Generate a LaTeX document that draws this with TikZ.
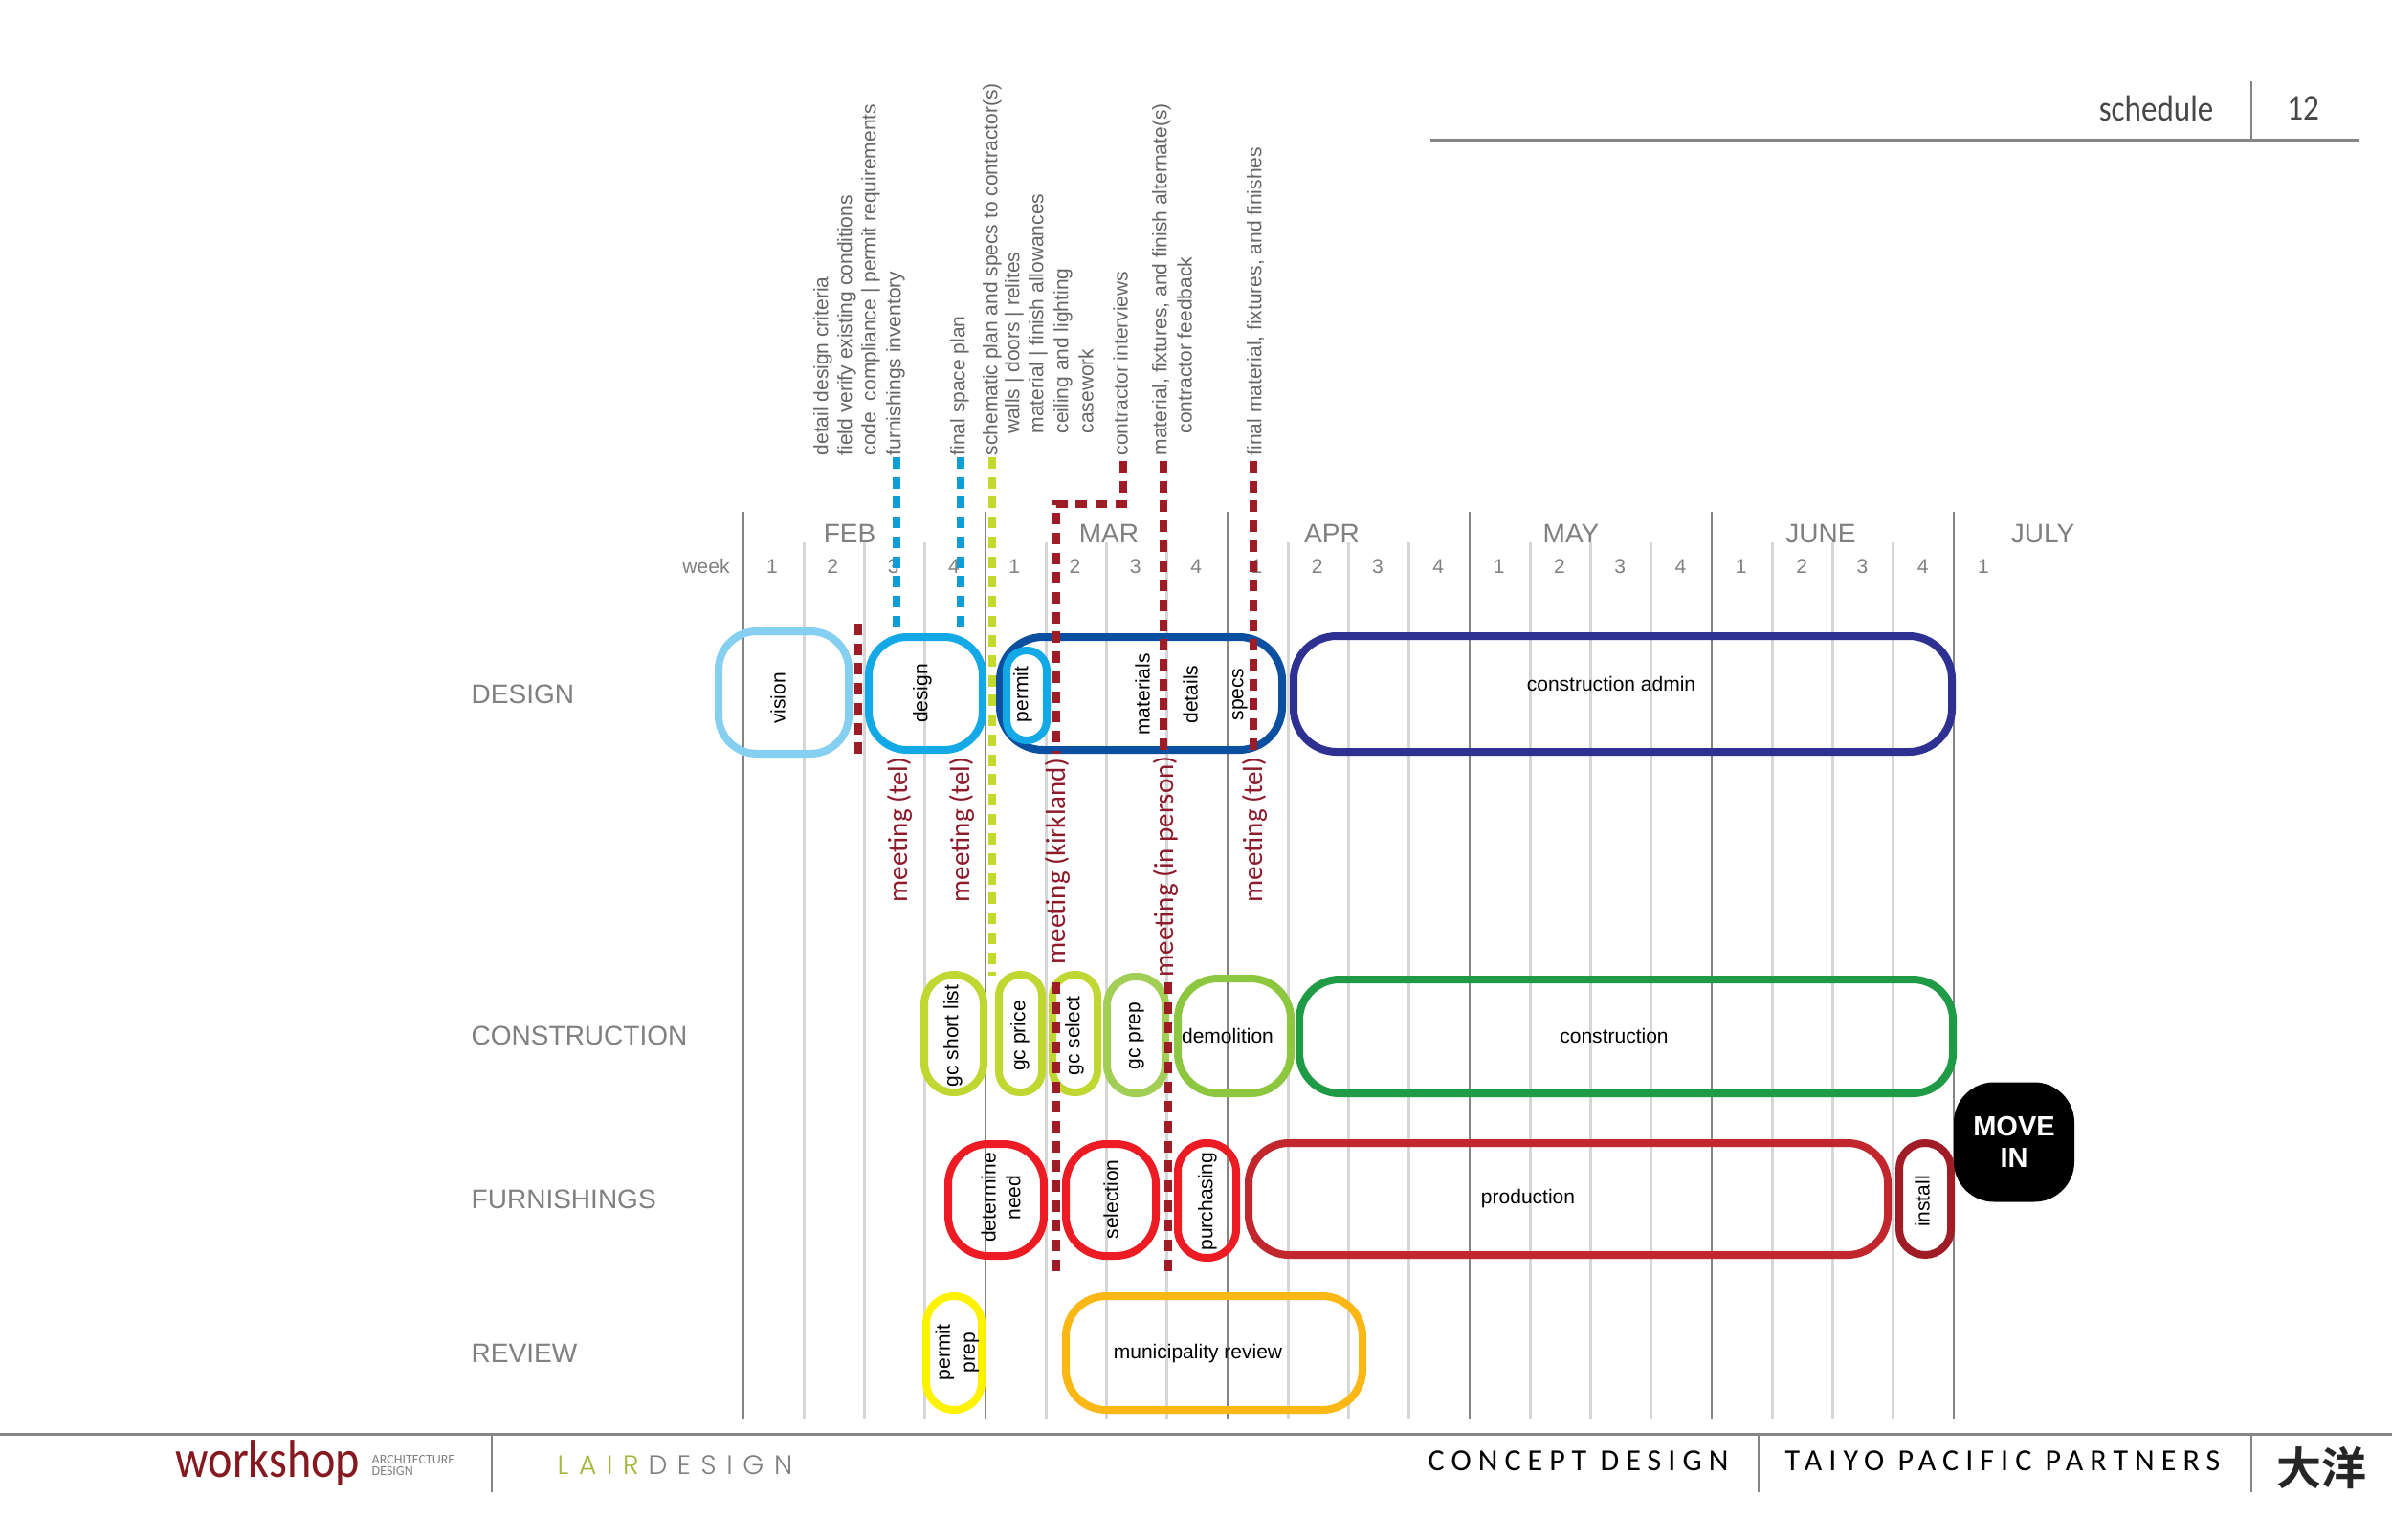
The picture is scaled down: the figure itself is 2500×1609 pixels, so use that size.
\documentclass[tikz,border=0pt]{standalone}
\usepackage{fontspec}
\setmainfont{Liberation Sans}
\newfontfamily\calfont{Carlito}
\newfontfamily\headfont[FakeStretch=0.87]{Carlito}
\newfontfamily\workfont[FakeStretch=0.86]{Carlito}
\newfontfamily\footfont[LetterSpace=22]{Carlito}
\newfontfamily\lairfont[LetterSpace=38,UprightFont=* Light]{Poppins}
\newfontfamily\cjkfont{Noto Sans CJK SC}[BoldFont=* Bold]
\newdimen\px \px=0.01cm
\newcommand{\fs}[1]{\fontsize{\fpeval{#1*0.28453}pt}{\fpeval{#1*0.28453*1.2}pt}\selectfont}
\definecolor{gridD}{HTML}{858585}
\definecolor{gridL}{HTML}{D6D6D6}
\definecolor{labelG}{HTML}{808080}
\definecolor{noteG}{HTML}{666666}
\definecolor{maroon}{HTML}{9E1C26}
\definecolor{meetC}{HTML}{8E1B2C}
\definecolor{dBlue}{HTML}{0F9FD8}
\definecolor{dLime}{HTML}{C4D82E}
\definecolor{cVision}{HTML}{85D0F0}
\definecolor{cDesign}{HTML}{12A9E6}
\definecolor{cMat}{HTML}{0A4FA0}
\definecolor{cAdmin}{HTML}{2E3192}
\definecolor{cGc}{HTML}{BFD730}
\definecolor{cPrep}{HTML}{A3CE55}
\definecolor{cDemo}{HTML}{8DC63F}
\definecolor{cCons}{HTML}{1F9A46}
\definecolor{cFurn}{HTML}{ED1C24}
\definecolor{cProd}{HTML}{C1272D}
\definecolor{cInst}{HTML}{A01C26}
\definecolor{cYel}{HTML}{FFF200}
\definecolor{cMuni}{HTML}{FBB814}
\tikzset{
  griddark/.style={draw=gridD,line width=2.8\px},
  gridlight/.style={draw=gridL,line width=2.8\px},
  schedbox/.style={draw=#1,line width=8\px,rectangle,inner sep=0pt,outer sep=0pt},
  meetdash/.style={draw=#1,line width=7.5\px,dash pattern=on 12\px off 8.7\px},
  rowlabel/.style={anchor=west,inner sep=0pt,text=labelG,font=\fs{28}},
  monthlabel/.style={inner sep=0pt,text=labelG,font=\fs{28}},
  weeklabel/.style={inner sep=0pt,text=labelG,font=\fs{21}},
  notetext/.style={rotate=90,anchor=west,inner sep=0pt,text=noteG,font=\fs{21}},
  meettext/.style={rotate=90,anchor=west,inner sep=0pt,text=meetC,font=\calfont\fs{29}},
  boxtext/.style={rotate=90,inner sep=0pt,text=black,font=\fs{21},align=center},
  boxtexth/.style={inner sep=0pt,text=black,font=\fs{21}},
  rulesty/.style={draw=gridD,line width=3\px},
  foottext/.style={inner sep=0pt,anchor=west,text=black,font=\footfont\fs{32}},
}
% name, x1, y1, x2, y2 (outer extents), colour, radius
\newcommand{\pbox}[7]{%
  \node[schedbox=#6,rounded corners=#7\px,
        minimum width={(#4-#2-8)*\px},minimum height={(#5-#3-8)*\px}]
        (#1) at ({(#2+#4)/2},{(#3+#5)/2}) {};}
\begin{document}
\begin{tikzpicture}[x=0.01cm,y=-0.01cm]
\useasboundingbox (0,0) rectangle (2500,1609);
\fill[white] (0,0) rectangle (2500,1609);

% grid
\foreach \k in {0,...,20}{
  \pgfmathsetmacro{\gx}{777+63.25*\k}
  \pgfmathtruncatemacro{\md}{mod(\k,4)}
  \ifnum\md=0
    \coordinate (gt\k) at (\gx,535); \coordinate (gb\k) at (\gx,1484);
    \draw[griddark] (gt\k) -- (gb\k);
  \else
    \coordinate (gt\k) at (\gx,567); \coordinate (gb\k) at (\gx,1484);
    \draw[gridlight] (gt\k) -- (gb\k);
  \fi
}

% months, weeks
\node[monthlabel] (mFeb) at (888,558) {FEB};
\node[monthlabel] (mMar) at (1159,558) {MAR};
\node[monthlabel] (mApr) at (1392,558) {APR};
\node[monthlabel] (mMay) at (1642,558) {MAY};
\node[monthlabel] (mJun) at (1903,558) {JUNE};
\node[monthlabel] (mJul) at (2135,558) {JULY};
\node[weeklabel] (wk) at (738,592) {week};
\foreach \k/\n in {0/1,1/2,2/3,3/4,4/1,5/2,6/3,7/4,8/1,9/2,10/3,11/4,12/1,13/2,14/3,15/4,16/1,17/2,18/3,19/4,20/1}{
  \pgfmathsetmacro{\wx}{807+63.3*\k}
  \node[weeklabel] (w\k) at (\wx,592) {\n};
}

% row labels
\node[rowlabel] (rDesign) at (492,726) {DESIGN};
\node[rowlabel] (rCons) at (492,1083) {CONSTRUCTION};
\node[rowlabel] (rFurn) at (492,1254) {FURNISHINGS};
\node[rowlabel] (rRev) at (492,1415) {REVIEW};

% notes
\node[notetext] (n1) at (860,477) {detail design criteria};
\node[notetext] (n2) at (885,477) {field verify existing conditions};
\node[notetext] (n3) at (910,477) {code\ \ compliance | permit requirements};
\node[notetext] (n4) at (936,477) {furnishings inventory};
\node[notetext] (n5) at (1003,477) {final space plan};
\node[notetext] (n6) at (1037,477) {schematic plan and specs to contractor(s)};
\node[notetext] (n7) at (1060,454) {walls | doors | relites};
\node[notetext] (n8) at (1085,454) {material | finish allowances};
\node[notetext] (n9) at (1111,454) {ceiling and lighting};
\node[notetext] (n10) at (1135,454) {casework};
\node[notetext] (n11) at (1171,477) {contractor interviews};
\node[notetext] (n12) at (1214,477) {material, fixtures, and finish alternate(s)};
\node[notetext] (n13) at (1238,454) {contractor feedback};
\node[notetext] (n14) at (1312,477) {final material, fixtures, and finishes};

% boxes: design
\pbox{bVision}{747}{656}{891}{792}{cVision}{40}
\pbox{bDesign}{904}{662}{1031}{788}{cDesign}{40}
\pbox{bMat}{1041}{662}{1344}{788}{cMat}{45}
\pbox{bPermit}{1048}{676}{1098}{778}{cDesign}{21}
\pbox{bAdmin}{1348}{661}{2044}{790}{cAdmin}{45}
% construction
\pbox{bShort}{962}{1015}{1032}{1146}{cGc}{31}
\pbox{bPrice}{1040}{1015}{1093}{1146}{cGc}{22}
\pbox{bSelect}{1096}{1015}{1151}{1146}{cGc}{23}
\pbox{bPrep}{1153}{1017}{1222}{1147}{cPrep}{30}
\pbox{bDemo}{1227}{1019}{1353}{1147}{cDemo}{42}
\pbox{bCons}{1354}{1020}{2045}{1147}{cCons}{42}
% furnishings
\pbox{bNeed}{987}{1192}{1095}{1317}{cFurn}{42}
\pbox{bSel}{1110}{1192}{1212}{1317}{cFurn}{42}
\pbox{bPurch}{1227}{1191}{1296}{1319}{cFurn}{30}
\pbox{bProd}{1301}{1191}{1977}{1316}{cProd}{42}
\pbox{bInst}{1981}{1191}{2043}{1316}{cInst}{27}
% review
\pbox{bPPrep}{964}{1351}{1030}{1478}{cYel}{29}
\pbox{bMuni}{1110}{1351}{1428}{1478}{cMuni}{42}
% move in
\node[fill=black,rectangle,rounded corners=42\px,inner sep=0pt,minimum width=126\px,minimum height=125\px,
      text=white,font=\bfseries\fs{29},align=center] (bMove) at (2105,1194) {MOVE\\[-0.5pt]IN};

% box texts
\node[boxtext] (tVision) at (813,730) {vision};
\node[boxtext] (tDesign) at (964,725) {design};
\node[boxtext] (tPermit) at (1069,726) {permit};
\node[boxtext] (tMat) at (1194,726) {materials};
\node[boxtext] (tDet) at (1244,726) {details};
\node[boxtext] (tSpec) at (1296,726) {specs};
\node[boxtexth] (tAdmin) at (1684,715) {construction admin};
\node[boxtext] (tShort) at (996,1083) {gc short list};
\node[boxtext] (tPrice) at (1066,1083) {gc price};
\node[boxtext] (tSelect) at (1123,1083) {gc select};
\node[boxtext] (tPrep) at (1188,1083) {gc prep};
\node[boxtexth] (tDemo) at (1283,1083) {demolition};
\node[boxtexth] (tCons) at (1687,1082.5) {construction};
\node[boxtext] (tNeed) at (1046,1252) {determine\\[0.2pt]need};
\node[boxtext] (tSel) at (1161,1254) {selection};
\node[boxtext] (tPurch) at (1262,1256) {purchasing};
\node[boxtexth] (tProd) at (1597,1253.5) {production};
\node[boxtext] (tInst) at (2009,1256) {install};
\node[boxtext] (tPPrep) at (1000.5,1414) {permit\\[0.2pt]prep};
\node[boxtexth] (tMuni) at (1252,1415.5) {municipality review};

% meeting labels
\node[meettext] (m1) at (940,944) {meeting (tel)};
\node[meettext] (m2) at (1005,944) {meeting (tel)};
\node[meettext] (m3) at (1105,1009) {meeting (kirkland)};
\node[meettext] (m4) at (1218,1022) {meeting (in person)};
\node[meettext] (m5) at (1311,944) {meeting (tel)};

% dashed connectors
\coordinate (d1t) at (937,478);   \coordinate (d1b) at (937,655);
\coordinate (d2t) at (1004,478);  \coordinate (d2b) at (1004,655);
\coordinate (d3t) at (1037,478);  \coordinate (d3b) at (1037,1020);
\coordinate (d4t) at (897,652);   \coordinate (d4b) at (897,790);
\coordinate (d5t) at (1174,482);  \coordinate (d5c) at (1174,527); \coordinate (d5d) at (1104,527); \coordinate (d5b) at (1104,788);
\coordinate (d6t) at (1104,1027); \coordinate (d6b) at (1104,1333);
\coordinate (d7t) at (1216,482);  \coordinate (d7b) at (1216,790);
\coordinate (d8t) at (1221,1027); \coordinate (d8b) at (1221,1333);
\coordinate (d9t) at (1310,482);  \coordinate (d9b) at (1310,790);
\draw[meetdash=dBlue] (d1t) -- (d1b);
\draw[meetdash=dBlue] (d2t) -- (d2b);
\draw[meetdash=dLime] (d3t) -- (d3b);
\draw[meetdash=maroon] (d4t) -- (d4b);
\draw[meetdash=maroon] (d5t) -- (d5c) -- (d5d) -- (d5b);
\draw[meetdash=maroon] (d6t) -- (d6b);
\draw[meetdash=maroon] (d7t) -- (d7b);
\draw[meetdash=maroon] (d8t) -- (d8b);
\draw[meetdash=maroon] (d9t) -- (d9b);

% header
\coordinate (hl) at (1495,146); \coordinate (hr) at (2465,146); \coordinate (hv) at (2353,85); \coordinate (hvb) at (2353,146);
\draw[rulesty] (hl) -- (hr);
\draw[draw=gridD,line width=2\px] (hv) -- (hvb);
\node[inner sep=0pt,anchor=east,text=noteG!70!black,font=\headfont\fs{38}] (hSched) at (2314,113) {schedule};
\node[inner sep=0pt,text=noteG!70!black,font=\headfont\fs{38}] (hNum) at (2407,113) {12};

% footer
\coordinate (fl) at (0,1499); \coordinate (fr) at (2500,1499);
\draw[rulesty] (fl) -- (fr);
\foreach \vx/\vn in {514/a,1838/b,2353/c}{
  \coordinate (fv\vn t) at (\vx,1499); \coordinate (fv\vn b) at (\vx,1560);
  \draw[draw=gridD,line width=2\px] (fv\vn t) -- (fv\vn b);
}
\node[inner sep=0pt,anchor=base west,text=maroon!85!black,font=\workfont\fs{56}] (fWork) at (183,1544) {workshop};
\node[inner sep=0pt,anchor=west,text=labelG,font=\calfont\fs{14}] (fArch) at (388,1526) {ARCHITECTURE};
\node[inner sep=0pt,anchor=west,text=labelG,font=\calfont\fs{14}] (fDes) at (388,1538) {DESIGN};
\node[inner sep=0pt,anchor=base west,font=\lairfont\fs{28}] (fLair) at (582,1541) {\textcolor[HTML]{A3B53A}{LAIR}\kern 10\px\textcolor{labelG}{DESIGN}};
\node[foottext] (fConcept) at (1492,1527) {CONCEPT DESIGN};
\node[foottext] (fTaiyo) at (1865,1527) {TAIYO PACIFIC PARTNERS};
\node[inner sep=0pt,text=black!85,font=\cjkfont\bfseries\fs{47}] (fCjk) at (2426,1535) {大洋};
\end{tikzpicture}
\end{document}
